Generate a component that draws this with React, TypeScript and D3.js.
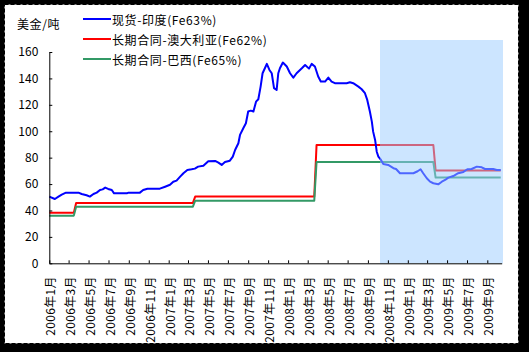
import { useRef, useEffect } from 'react'
import * as d3 from 'd3'

const seriesNames = ['现货-印度(Fe63%)', '长期合同-澳大利亚(Fe62%)', '长期合同-巴西(Fe65%)']
const seriesColors = ['#0000ff', '#ff0000', '#339966']

// spot price, India Fe63%
const spotDates = [
  '2006-01-01', '2006-01-18', '2006-01-29', '2006-02-08', '2006-02-21', '2006-03-31', '2006-04-10',
  '2006-04-25', '2006-05-05', '2006-05-16', '2006-05-26', '2006-06-05', '2006-06-13', '2006-06-21',
  '2006-06-30', '2006-07-11', '2006-07-18', '2006-08-05', '2006-08-26', '2006-08-31', '2006-10-05',
  '2006-10-15', '2006-10-28', '2006-12-05', '2006-12-21', '2007-01-05', '2007-01-15', '2007-01-25',
  '2007-02-05', '2007-02-15', '2007-02-27', '2007-03-12', '2007-03-22', '2007-04-01', '2007-04-17',
  '2007-05-02', '2007-05-23', '2007-06-02', '2007-06-12', '2007-06-22', '2007-07-07', '2007-07-16',
  '2007-07-23', '2007-08-02', '2007-08-07', '2007-08-17', '2007-08-25', '2007-09-01', '2007-09-09',
  '2007-09-17', '2007-09-25', '2007-10-02', '2007-10-09', '2007-10-15', '2007-10-22', '2007-10-28',
  '2007-11-05', '2007-11-12', '2007-11-19', '2007-11-27', '2007-12-02', '2007-12-07', '2007-12-16',
  '2007-12-28', '2008-01-07', '2008-01-17', '2008-01-27', '2008-02-12', '2008-02-22', '2008-03-05',
  '2008-03-13', '2008-03-23', '2008-04-02', '2008-04-10', '2008-04-23', '2008-05-03', '2008-05-13',
  '2008-05-23', '2008-06-28', '2008-07-08', '2008-07-18', '2008-08-03', '2008-08-13', '2008-08-23',
  '2008-08-30', '2008-09-07', '2008-09-13', '2008-09-17', '2008-09-23', '2008-09-28', '2008-10-03',
  '2008-10-11', '2008-10-18', '2008-11-02', '2008-11-18', '2008-11-26', '2008-12-08', '2009-01-18',
  '2009-01-31', '2009-02-09', '2009-02-17', '2009-02-28', '2009-03-10', '2009-03-20', '2009-04-04',
  '2009-04-15', '2009-04-25', '2009-05-05', '2009-05-20', '2009-06-04', '2009-06-20', '2009-07-02',
  '2009-07-15', '2009-07-31', '2009-08-15', '2009-08-25', '2009-09-19', '2009-09-30', '2009-10-12',
]
const spotValues = [
  50.5, 48.7, 50.5, 52, 53.5, 53.5, 52.5,
  51.5, 50.5, 52.5, 53.5, 55.5, 56, 57.3,
  56.3, 55.5, 53, 53, 53, 53.5, 53.5,
  55.5, 56.5, 56.5, 58, 59.5, 61.8, 62.6,
  65.6, 68.2, 70.7, 71.2, 71.7, 73.2, 73.8,
  77.3, 77.5, 76.2, 74.5, 76.7, 77.7, 80.8,
  85.8, 90.9, 97.2, 102.3, 106, 114.9, 115.6,
  114.9, 122.4, 124.2, 133.8, 143.9, 147.7, 151,
  146.4, 143.9, 132.6, 131.3, 143.9, 147.7, 152,
  149, 143.9, 140.6, 143.9, 147.7, 150.2, 147.4,
  151, 149, 141.4, 137.6, 137.6, 140.6, 137.6,
  136.4, 136.4, 137.1, 136.4, 133.8, 131.8, 128.8,
  123.7, 114.9, 107.3, 99.7, 93.4, 84.5, 80.8,
  78.3, 75.2, 74.5, 72, 71.4, 68.2, 68.2,
  69.7, 71.2, 68.2, 64.4, 61.8, 60.6, 59.8,
  61.8, 63.1, 64.9, 66.1, 68.2, 69.2, 71.2,
  71.4, 73.2, 72.7, 71.4, 71.4, 70.7, 70.7,
]

// long-term contract prices (annual steps)
const contractDates = [
  '2006-01-01', '2006-03-17', '2006-03-24', '2007-03-16', '2007-03-23',
  '2008-03-21', '2008-03-28', '2009-03-20', '2009-03-27', '2009-10-12',
]
const ausValues = [38.3, 38.3, 45.7, 45.7, 50.5, 50.5, 89.6, 89.6, 70.2, 70.2]
const braValues = [36.1, 36.1, 42.9, 42.9, 47.4, 47.4, 76.7, 76.7, 64.9, 64.9]

const yTicks = [0, 20, 40, 60, 80, 100, 120, 140, 160]
const xTickLabels = [
  '2006年1月', '2006年3月', '2006年5月', '2006年7月', '2006年9月', '2006年11月',
  '2007年1月', '2007年3月', '2007年5月', '2007年7月', '2007年9月', '2007年11月',
  '2008年1月', '2008年3月', '2008年5月', '2008年7月', '2008年9月', '2008年11月',
  '2009年1月', '2009年3月', '2009年5月', '2009年7月', '2009年9月',
]
const shadeStart = '2008-10-08'
const axisEnd = '2009-10-15'

const FONT = '"Noto Sans CJK SC", "Noto Sans", sans-serif'

const App = () => {
  const svgRef = useRef<SVGSVGElement>(null)

  useEffect(() => {
    const svg = d3.select(svgRef.current)
    svg.selectAll('*').remove()

    const width = 529
    const height = 352
    const parse = d3.timeParse('%Y-%m-%d')
    const parseLabel = (s: string) => {
      const m = s.match(/(\d+)年(\d+)月/)!
      return new Date(+m[1], +m[2] - 1, 1)
    }

    const x = d3.scaleTime()
      .domain([new Date(2006, 0, 1), parse(axisEnd)!])
      .range([49.3, 501.7])
    const y = d3.scaleLinear().domain([0, 160]).range([263.3, 52])

    // frame
    svg.append('rect').attr('width', width).attr('height', height).attr('fill', '#000')
    svg.append('rect')
      .attr('x', 4.5).attr('y', 4.5).attr('width', 514).attr('height', 339)
      .attr('fill', '#fff').attr('stroke', '#000').attr('stroke-dasharray', '4 2')

    const g = svg.append('g')

    const line = d3.line<[Date, number]>()
      .x((d) => x(d[0]))
      .y((d) => y(d[1]))

    const series: [Date, number][][] = [
      spotDates.map((d, i) => [parse(d)!, spotValues[i]]),
      contractDates.map((d, i) => [parse(d)!, ausValues[i]]),
      contractDates.map((d, i) => [parse(d)!, braValues[i]]),
    ]

    // draw contracts first, spot on top
    ;[1, 2, 0].forEach((i) => {
      g.append('path')
        .attr('d', line(series[i]))
        .attr('fill', 'none')
        .attr('stroke', seriesColors[i])
        .attr('stroke-width', 2)
        .attr('stroke-linejoin', 'round')
    })

    // forecast / shaded period
    g.append('rect')
      .attr('x', x(parse(shadeStart)!))
      .attr('y', 40)
      .attr('width', 503 - x(parse(shadeStart)!))
      .attr('height', y(0) - 40)
      .attr('fill', '#99ccff')
      .attr('opacity', 0.5)

    // y axis
    const yAxis = d3.axisLeft(y).tickValues(yTicks).tickSizeInner(-3).tickSizeOuter(0).tickPadding(11)
    const yg = g.append('g').attr('transform', `translate(${x.range()[0]},0)`).call(yAxis)
    yg.selectAll('text').attr('font-size', 12).attr('font-family', FONT).attr('fill', '#000')
    yg.selectAll('line, path').attr('stroke', '#000')

    // x axis
    const xAxis = d3.axisBottom(x)
      .tickValues(xTickLabels.map(parseLabel))
      .tickSizeInner(-3)
      .tickSizeOuter(0)
      .tickFormat((_d, i) => xTickLabels[i])
    const xg = g.append('g').attr('transform', `translate(0,${y(0)})`).call(xAxis)
    xg.selectAll('line, path').attr('stroke', '#000')
    xg.selectAll('text')
      .attr('font-size', 12)
      .attr('font-family', FONT)
      .attr('fill', '#000')
      .attr('letter-spacing', 0.3)
      .attr('y', 0)
      .attr('dy', null)
      .attr('transform', 'translate(0,13) rotate(-90)')
      .attr('text-anchor', 'end')
      .attr('dominant-baseline', 'central')

    // unit
    svg.append('text')
      .text('美金/吨')
      .attr('x', 17).attr('y', 23)
      .attr('dominant-baseline', 'central')
      .attr('letter-spacing', 0.6)
      .attr('font-size', 12).attr('font-family', FONT)

    // legend
    const legend = svg.append('g')
    seriesNames.forEach((name, i) => {
      const ly = 19 + i * 20
      legend.append('line')
        .attr('x1', 83).attr('x2', 111).attr('y1', ly).attr('y2', ly)
        .attr('stroke', seriesColors[i]).attr('stroke-width', 2)
      legend.append('text')
        .text(name)
        .attr('x', 112).attr('y', ly)
        .attr('dominant-baseline', 'central')
        .attr('letter-spacing', 0.6)
        .attr('font-size', 12).attr('font-family', FONT)
    })
  }, [])

  return (
    <svg
      ref={svgRef}
      width="529"
      height="352"
      style={{ position: 'absolute', left: 0, top: 0, display: 'block' }}
    ></svg>
  )
}

export default App
